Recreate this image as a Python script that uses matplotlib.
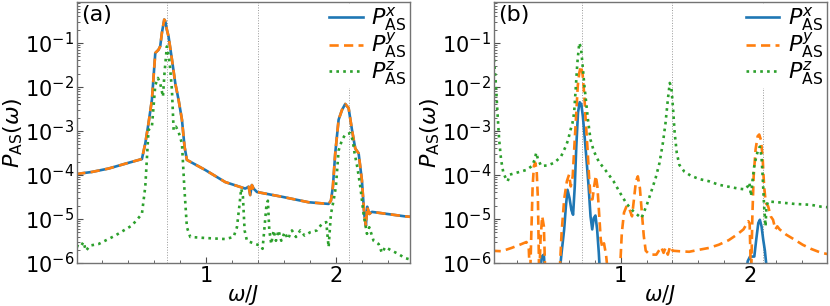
import matplotlib
matplotlib.use("Agg")
import matplotlib.pyplot as plt
from matplotlib.ticker import MultipleLocator, LogLocator, NullFormatter

# ---------------- data: panel (a) ----------------
a_w_xy = [0.0, 0.12, 0.249, 0.377, 0.505, 0.531, 0.556, 0.582, 0.608, 0.633, 0.646,
          0.659, 0.677, 0.685, 0.697, 0.71, 0.736, 0.762, 0.787, 0.813, 0.833, 0.851,
          0.992, 1.146, 1.3, 1.326, 1.338, 1.351, 1.364, 1.39, 1.582, 1.787, 1.941,
          1.959, 1.974, 1.992, 2.018, 2.044, 2.069, 2.095, 2.121, 2.146, 2.172, 2.197,
          2.215, 2.228, 2.238, 2.254, 2.274, 2.526, 2.57]
a_Px = [1.05e-4, 1.17e-4, 1.4e-4, 1.8e-4, 2.3e-4, 5.2e-4, 1.5e-3, 5.1e-3, 0.059, 0.07, 0.084,
        0.17, 0.34, 0.31, 0.2, 0.14, 0.042, 0.012, 5.1e-3, 1.8e-3, 4.4e-4, 2.2e-4,
        1.3e-4, 6.9e-5, 4.9e-5, 5.4e-5, 3.5e-5, 5.9e-5, 4.9e-5, 4.1e-5, 3.2e-5, 2.4e-5, 2.2e-5,
        2.6e-5, 5.4e-5, 3.1e-4, 1.8e-3, 3.0e-3, 4.1e-3, 3.3e-3, 1.05e-3, 4e-4, 3.1e-4, 7.6e-5,
        1.3e-5, 7e-6, 1.9e-5, 1.3e-5, 1.45e-5, 1.15e-5, 1.12e-5]
a_Py = a_Px

a_w_z = [0.0, 0.031, 0.056, 0.074, 0.108, 0.172, 0.3, 0.428, 0.505, 0.531, 0.556, 0.582,
         0.608, 0.628, 0.646, 0.667, 0.679, 0.697, 0.71, 0.723, 0.736, 0.749, 0.767,
         0.787, 0.813, 0.831, 0.851, 0.877, 0.992, 1.146, 1.21, 1.236, 1.254, 1.269,
         1.282, 1.295, 1.313, 1.377, 1.415, 1.433, 1.446, 1.462, 1.474, 1.485, 1.5,
         1.518, 1.536, 1.556, 1.577, 1.603, 1.628, 1.659, 1.69, 1.723, 1.756, 1.8,
         1.851, 1.89, 1.923, 1.941, 1.959, 1.979, 1.997, 2.018, 2.044, 2.069, 2.108,
         2.126, 2.141, 2.162, 2.185, 2.21, 2.236, 2.254, 2.287, 2.326, 2.351, 2.377,
         2.428, 2.479, 2.526, 2.57]
a_Pz = [2.5e-6, 2.3e-6, 3e-6, 1.9e-6, 2.5e-6, 2.7e-6, 4.2e-6, 7.1e-6, 1.3e-5, 5.4e-5, 1.05e-3, 1.25e-3,
        0.011, 0.016, 0.012, 6e-3, 0.021, 0.083, 0.054, 0.025, 8.5e-3, 1.05e-3, 1.25e-3,
        9.5e-4, 5.2e-4, 5.4e-5, 6.5e-6, 3.9e-6, 3.7e-6, 3.5e-6, 3.9e-6, 6.5e-6, 1.9e-5, 4.9e-5,
        3.2e-5, 5.5e-6, 3.2e-6, 2.7e-6, 2.5e-6, 2.1e-6, 5.5e-6, 1.9e-5, 2.6e-5, 5.5e-6, 2.7e-6,
        5.5e-6, 3.2e-6, 5.5e-6, 3.2e-6, 5e-6, 3.5e-6, 5.5e-6, 3.9e-6, 5.5e-6, 4.2e-6, 5e-6,
        5.5e-6, 7.8e-6, 8.5e-6, 2.3e-6, 1.3e-5, 2.6e-5, 5.4e-5, 3.6e-4, 6.2e-4, 8.3e-4, 8.9e-4,
        6.2e-4, 3.1e-4, 1.5e-4, 5.4e-5, 1.3e-5, 4.6e-6, 6.5e-6, 3.2e-6, 2.7e-6, 1.7e-6, 2.3e-6,
        1.9e-6, 1.6e-6, 1.3e-6, 1.2e-6]

# ---------------- data: panel (b) ----------------
b_w_x = [0.0, 0.372, 0.389, 0.405, 0.415, 0.524, 0.542, 0.562, 0.575, 0.588, 0.603, 0.618,
         0.631, 0.644, 0.656, 0.669, 0.682, 0.695, 0.707, 0.72, 0.735, 0.751, 0.766,
         0.779, 0.791, 0.804, 0.817, 0.83, 0.842, 1.962, 1.982, 2.0, 2.033, 2.048,
         2.064, 2.076, 2.089, 2.102, 2.115, 2.135, 2.6]
b_Px = [1e-7, 5e-7, 1.4e-6, 1.55e-6, 5e-7, 5e-7, 1.7e-6, 5.8e-6, 1.9e-5, 4.6e-5, 3e-5, 1.6e-5,
        1.25e-5, 5.5e-5, 4.5e-4, 2.6e-3, 4.5e-3, 4e-3, 2.1e-3, 7.6e-4, 2.2e-4, 5.5e-5, 1.15e-5,
        5.8e-6, 1.05e-5, 1.2e-5, 5.8e-6, 1.7e-6, 4e-7, 4e-7, 1.1e-6, 1.4e-6, 1.4e-6, 3.4e-6,
        8.1e-6, 9.6e-6, 6.8e-6, 3.4e-6, 1.9e-6, 5e-7, 3e-7]

b_w_y = [0.0, 0.079, 0.155, 0.219, 0.27, 0.288, 0.298, 0.308, 0.318, 0.328, 0.338, 0.349,
         0.359, 0.369, 0.379, 0.392, 0.405, 0.417, 0.524, 0.542, 0.562, 0.583, 0.6,
         0.613, 0.628, 0.641, 0.654, 0.667, 0.679, 0.692, 0.705, 0.718, 0.73, 0.743,
         0.756, 0.768, 0.781, 0.794, 0.807, 0.819, 0.832, 0.845, 0.858, 0.87, 0.886,
         0.906, 0.99, 1.008, 1.025, 1.046, 1.066, 1.087, 1.102, 1.117, 1.132, 1.148,
         1.163, 1.178, 1.193, 1.224, 1.275, 1.313, 1.331, 1.346, 1.364, 1.382, 1.402,
         1.453, 1.529, 1.606, 1.682, 1.758, 1.835, 1.898, 1.949, 1.987, 1.997, 2.008,
         2.018, 2.028, 2.043, 2.059, 2.071, 2.084, 2.097, 2.109, 2.122, 2.14, 2.16,
         2.178, 2.196, 2.211, 2.229, 2.28, 2.344, 2.407, 2.471, 2.552, 2.6]
b_Py = [1.9e-6, 1.85e-6, 2.2e-6, 2.6e-6, 3e-6, 2.2e-6, 4e-7, 4.8e-6, 5.5e-5, 1.6e-4, 1.9e-4, 1.3e-4,
        2.8e-5, 4e-7, 3.4e-6, 1.15e-5, 6.8e-6, 4e-7, 4e-7, 4.8e-6, 2.8e-5, 7.2e-5, 1.02e-4,
        5.5e-5, 9.3e-5, 4.5e-4, 2.1e-3, 0.0104, 0.021, 0.03, 0.019, 6.2e-3, 1.5e-3, 3.8e-4,
        7.8e-5, 2.8e-5, 2.8e-5, 5.5e-5, 9.6e-5, 5.5e-5, 1.4e-5, 3.4e-6, 2.2e-6, 2.8e-6, 1.55e-6,
        4e-7, 4e-7, 4.8e-6, 1.4e-5, 2e-5, 1.7e-5, 1.15e-5, 2.8e-5, 7.2e-5, 9.3e-5, 5e-5,
        1.4e-5, 4.1e-6, 1.9e-6, 1.55e-6, 1.55e-6, 2.3e-6, 1.7e-6, 2.2e-6, 1.55e-6, 2.4e-6, 1.9e-6,
        1.85e-6, 1.8e-6, 2e-6, 2.2e-6, 2.6e-6, 3.3e-6, 4.4e-6, 5.8e-6, 8.9e-6, 8e-6, 4e-7,
        1.15e-5, 9.3e-5, 3.8e-4, 7.6e-4, 8.3e-4, 6.3e-4, 2.6e-4, 5.5e-5, 2.3e-5, 1.95e-5, 1.15e-5,
        9.6e-6, 5.8e-6, 6.8e-6, 5.8e-6, 4.4e-6, 3.4e-6, 2.6e-6, 2.1e-6, 1.7e-6, 1.6e-6]

b_w_z = [0.015, 0.033, 0.046, 0.059, 0.074, 0.092, 0.109, 0.125, 0.142, 0.206, 0.27, 0.313,
         0.333, 0.346, 0.359, 0.384, 0.435, 0.486, 0.537, 0.575, 0.593, 0.608, 0.626,
         0.639, 0.651, 0.664, 0.679, 0.692, 0.705, 0.718, 0.73, 0.746, 0.766, 0.791,
         0.83, 0.88, 0.944, 0.995, 1.046, 1.097, 1.135, 1.16, 1.178, 1.204, 1.237,
         1.27, 1.3, 1.326, 1.346, 1.364, 1.379, 1.392, 1.405, 1.417, 1.433, 1.453,
         1.491, 1.542, 1.606, 1.682, 1.758, 1.835, 1.911, 1.962, 1.982, 1.995, 2.008,
         2.02, 2.033, 2.048, 2.064, 2.076, 2.089, 2.099, 2.109, 2.12, 2.127, 2.14,
         2.216, 2.344, 2.471, 2.552, 2.6]
b_Pz = [0.06, 0.0123, 2.6e-3, 6.3e-4, 2.2e-4, 1.1e-4, 8.6e-5, 7.2e-5, 1.02e-4, 1.15e-4, 1.3e-4, 1.6e-4,
        2.2e-4, 3.2e-4, 2.3e-4, 1.6e-4, 1.65e-4, 1.9e-4, 2.6e-4, 4.5e-4, 6.3e-4, 9.8e-4, 1.5e-3,
        2.6e-3, 8.7e-3, 0.035, 0.1, 0.077, 0.03, 0.011, 5.1e-3, 1.8e-3, 6.3e-4, 3.5e-4,
        2e-4, 1.3e-4, 7.2e-5, 3.9e-5, 2.2e-5, 1.5e-5, 1.2e-5, 1.05e-5, 1.4e-5, 2.2e-5, 4.3e-5,
        8.6e-5, 1.9e-4, 5.4e-4, 1.5e-3, 5.1e-3, 0.0123, 9.5e-3, 3e-3, 9e-4, 3.2e-4, 1.7e-4,
        1.2e-4, 9.6e-5, 8.1e-5, 7.2e-5, 6e-5, 5.4e-5, 4.9e-5, 4.7e-5, 5.5e-5, 6.7e-5, 3.3e-5,
        7.8e-5, 1.6e-4, 2.6e-4, 3.8e-4, 4.4e-4, 2.6e-4, 7.8e-5, 1.95e-5, 6.8e-6, 1.95e-5, 2.5e-5,
        2.4e-5, 2.2e-5, 2.1e-5, 1.9e-5, 1.85e-5]

ref_lines = [0.7, 1.4, 2.1]
panel_labels = ["(a)", "(b)"]
legend_labels = [r"$P^{x}_{\rm AS}$", r"$P^{y}_{\rm AS}$", r"$P^{z}_{\rm AS}$"]

# ---------------- figure ----------------
plt.rcParams["mathtext.fontset"] = "dejavusans"
fig = plt.figure(figsize=(8.3, 3.06), dpi=100)
ax_a = fig.add_axes([0.0928, 0.1405, 0.401, 0.853])
ax_b = fig.add_axes([0.595, 0.1405, 0.401, 0.853])

c_x, c_y, c_z = "#1f77b4", "#ff7f0e", "#2ca02c"

panels = [
    (ax_a, (a_w_xy, a_Px), (a_w_xy, a_Py), (a_w_z, a_Pz), (0.006, 2.566)),
    (ax_b, (b_w_x, b_Px), (b_w_y, b_Py), (b_w_z, b_Pz), (0.018, 2.593)),
]

for i, (ax, px, py, pz, xl) in enumerate(panels):
    for v in ref_lines:
        ax.axvline(v, color="0.6", lw=0.7, ls=":", zorder=0)
    ax.plot(*px, color=c_x, lw=1.9, ls="-", label=legend_labels[0])
    ax.plot(*py, color=c_y, lw=1.9, ls=(0, (3.5, 2.0)), label=legend_labels[1])
    ax.plot(*pz, color=c_z, lw=1.9, ls=(0, (1, 1.6)), label=legend_labels[2])
    ax.set_yscale("log")
    ax.set_ylim(1e-6, 0.85)
    ax.set_xlim(*xl)
    ax.xaxis.set_major_locator(MultipleLocator(1))
    ax.xaxis.set_minor_locator(MultipleLocator(0.2))
    ax.yaxis.set_major_locator(LogLocator(base=10, numticks=12))
    ax.yaxis.set_minor_locator(LogLocator(base=10, subs=range(2, 10), numticks=12))
    ax.yaxis.set_minor_formatter(NullFormatter())
    ax.tick_params(which="both", direction="in", labelsize=15, color="0.3", pad=2)
    ax.tick_params(which="major", length=4, width=0.8)
    ax.tick_params(which="minor", length=2, width=0.6)
    for s in ax.spines.values():
        s.set_color("0.45")
        s.set_linewidth(1.0)
    ax.set_xlabel(r"$\omega/J$", fontsize=15, labelpad=-2)
    ax.set_ylabel(r"$P_{\rm AS}(\omega)$", fontsize=16, labelpad=0)
    ax.text(0.012, 0.99, panel_labels[i], transform=ax.transAxes, fontsize=16,
            ha="left", va="top")
    leg = ax.legend(loc="upper right", fontsize=16, frameon=True, framealpha=1.0,
                    edgecolor="none", facecolor="white", handlelength=1.5,
                    handletextpad=0.4, labelspacing=-0.1, borderpad=0.05,
                    borderaxespad=0.1)

fig.savefig("out.png", dpi=100)
